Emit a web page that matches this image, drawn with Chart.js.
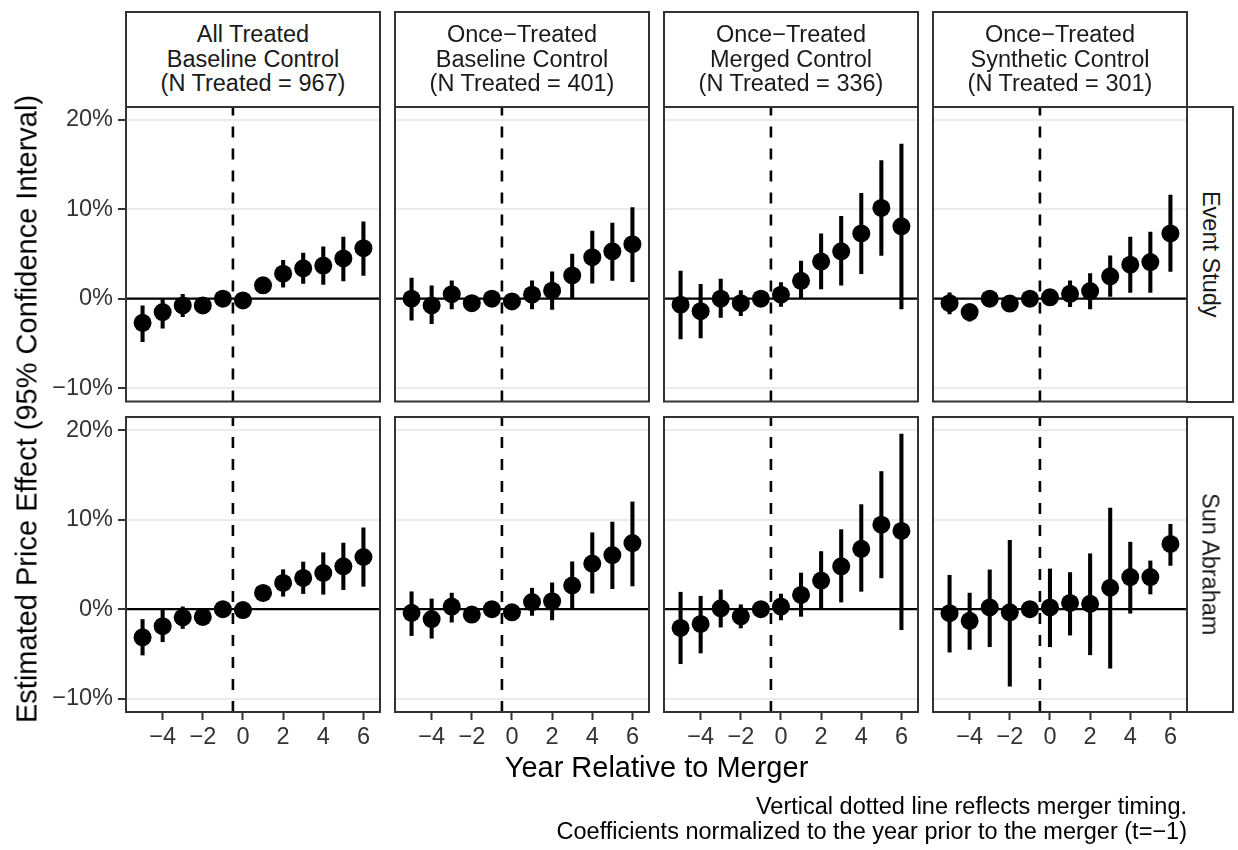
<!DOCTYPE html>
<html>
<head>
<meta charset="utf-8">
<script src="https://cdn.jsdelivr.net/npm/chart.js@4.4.0/dist/chart.umd.min.js"></script>
<style>
  body { margin: 0; background: #fff; width: 1238px; height: 850px; position: relative; overflow: hidden;
         font-family: "Liberation Sans", Arial, Helvetica, sans-serif; }
  canvas { position: absolute; left: 0; top: 0; }
  .strip { position: absolute; box-sizing: border-box; border: 2px solid #333; background: #fff; color: #1a1a1a;
           font-size: 23.5px; line-height: 24.5px; display: flex; align-items: center; justify-content: center; text-align: center; }
  .vtext { white-space: nowrap; transform: rotate(90deg); }
  .lbl { position: absolute; white-space: nowrap; color: #000; }
</style>
</head>
<body>
<script>
// data (percent), years relative to merger
const YEARS = [-5, -4, -3, -2, -1, 0, 1, 2, 3, 4, 5, 6];
const X_TICKS = [-4, -2, 0, 2, 4, 6];
const Y_TICKS = [-10, 0, 10, 20];
const COL_STRIPS = [
  ["All Treated", "Baseline Control", "(N Treated = 967)"],
  ["Once\u2212Treated", "Baseline Control", "(N Treated = 401)"],
  ["Once\u2212Treated", "Merged Control", "(N Treated = 336)"],
  ["Once\u2212Treated", "Synthetic Control", "(N Treated = 301)"]
];
const ROW_STRIPS = ["Event Study", "Sun Abraham"];

// Event Study
const esAllEst = [-2.7, -1.5, -0.75, -0.75, 0, -0.2, 1.5, 2.8, 3.4, 3.7, 4.5, 5.65];
const esAllLo  = [-4.8, -3.3, -2.0, -1.4, 0, -0.8, 1.0, 1.3, 1.7, 1.6, 2.0, 2.6];
const esAllHi  = [-0.8, -0.1, 0.5, -0.1, 0, 0.4, 2.0, 4.3, 5.1, 5.8, 6.9, 8.6];

const esBaseEst = [0.0, -0.75, 0.5, -0.5, 0, -0.3, 0.45, 0.9, 2.6, 4.65, 5.3, 6.1];
const esBaseLo  = [-2.4, -2.8, -1.15, -1.3, 0, -0.9, -1.15, -1.2, 0.0, 1.75, 2.05, 1.9];
const esBaseHi  = [2.3, 1.45, 2.0, 0.3, 0, 0.3, 2.0, 3.0, 5.0, 7.55, 8.45, 10.2];

const esMergEst = [-0.67, -1.4, 0.0, -0.5, 0, 0.45, 2.0, 4.15, 5.3, 7.3, 10.15, 8.1];
const esMergLo  = [-4.5, -4.4, -2.1, -1.9, 0, -0.85, 0.0, 1.1, 1.5, 2.8, 4.85, -1.15];
const esMergHi  = [3.1, 1.6, 2.2, 0.9, 0, 1.8, 4.2, 7.25, 9.2, 11.8, 15.45, 17.3];

const esSynEst = [-0.5, -1.5, 0.0, -0.55, 0, 0.15, 0.55, 0.85, 2.5, 3.8, 4.1, 7.3];
const esSynLo  = [-1.7, -2.5, -0.5, -1.0, 0, -0.4, -0.9, -1.15, 0.25, 0.7, 0.7, 3.05];
const esSynHi  = [0.65, -0.8, 0.5, -0.1, 0, 0.6, 2.0, 2.8, 4.8, 6.9, 7.45, 11.6];

// Sun Abraham
const saAllEst = [-3.15, -1.9, -0.93, -0.86, 0, -0.1, 1.82, 2.94, 3.5, 4.05, 4.8, 5.84];
const saAllLo  = [-5.13, -3.64, -2.16, -1.5, 0, -0.6, 1.3, 1.45, 1.75, 1.67, 2.19, 2.56];
const saAllHi  = [-1.15, -0.1, 0.26, -0.3, 0, 0.4, 2.4, 4.42, 5.28, 6.32, 7.4, 9.1];

const saBaseEst = [-0.4, -1.1, 0.3, -0.6, 0, -0.35, 0.8, 0.9, 2.65, 5.1, 6.05, 7.4];
const saBaseLo  = [-2.95, -3.25, -1.45, -1.2, 0, -0.9, -0.7, -1.2, 0.1, 1.8, 2.3, 2.6];
const saBaseHi  = [1.95, 1.15, 1.8, 0.0, 0, 0.2, 2.35, 2.95, 5.3, 8.55, 9.75, 12.0];

const saMergEst = [-2.1, -1.65, 0.1, -0.8, 0, 0.3, 1.6, 3.2, 4.8, 6.75, 9.45, 8.75];
const saMergLo  = [-6.1, -4.9, -2.0, -2.1, 0, -1.2, -0.8, 0.05, 0.8, 2.0, 3.5, -2.3];
const saMergHi  = [1.9, 1.45, 2.15, 0.5, 0, 1.7, 4.05, 6.45, 8.9, 11.7, 15.4, 19.6];

const saSynEst = [-0.45, -1.3, 0.2, -0.35, 0, 0.2, 0.7, 0.6, 2.4, 3.6, 3.6, 7.3];
const saSynLo  = [-4.8, -4.5, -4.2, -8.6, 0, -4.2, -2.9, -5.1, -6.6, -0.45, 1.7, 4.9];
const saSynHi  = [3.8, 1.8, 4.4, 7.7, 0, 4.5, 4.1, 6.2, 11.3, 7.5, 5.4, 9.5];

const H_LINE = 0;      // reference line
const V_LINE = -0.5;   // merger timing

// layout
const W = 1238, H = 850;
const COL_LEFT = [126, 395, 664, 933];
const ROW_TOP = [106.5, 417];
const PW = 254, PH = 295;
const X_MIN = -5.825, X_MAX = 6.825;
const Y_MIN = -11.5, Y_MAX = 21.5;
const FONT = '"Liberation Sans", Arial, Helvetica, sans-serif';

const fmt = v => (v < 0 ? "\u2212" + Math.abs(v) : String(v));

const panelDecor = {
  id: "panelDecor",
  beforeDatasetsDraw(chart) {
    const { ctx, chartArea: a, scales } = chart;
    ctx.save();
    const y0 = scales.y.getPixelForValue(H_LINE);
    ctx.strokeStyle = "#000";
    ctx.lineWidth = 2.2;
    ctx.beginPath(); ctx.moveTo(a.left, y0); ctx.lineTo(a.right, y0); ctx.stroke();
    const xv = scales.x.getPixelForValue(V_LINE);
    ctx.setLineDash([11, 11]);
    ctx.lineWidth = 2.6;
    ctx.beginPath(); ctx.moveTo(xv, a.bottom); ctx.lineTo(xv, a.top); ctx.stroke();
    ctx.restore();
  },
  afterDraw(chart) {
    const { ctx, chartArea: a } = chart;
    ctx.save();
    ctx.strokeStyle = "#333";
    ctx.lineWidth = 2;
    ctx.strokeRect(a.left, a.top, a.right - a.left, a.bottom - a.top);
    ctx.restore();
  }
};

function makePanel(row, col, est, lo, hi) {
  const canvas = document.createElement("canvas");
  canvas.width = W; canvas.height = H;
  document.body.appendChild(canvas);
  const left = COL_LEFT[col], top = ROW_TOP[row];
  const bottom = H - top - PH;
  // the axis boxes take the whole margin where labels are shown, so labels are not clipped
  const yBox = col === 0 ? left : 0;
  const xBox = row === 1 ? bottom : 0;

  new Chart(canvas.getContext("2d"), {
    type: "scatter",
    data: {
      datasets: [
        {
          type: "scatter",
          data: YEARS.map((x, i) => ({ x: x, y: est[i] })),
          pointRadius: 9,
          pointHoverRadius: 9,
          pointBackgroundColor: "#000",
          pointBorderWidth: 0,
          order: 0
        },
        {
          type: "bar",
          data: YEARS.map((x, i) => ({ x: x, y: [lo[i], hi[i]] })),
          backgroundColor: "#000",
          barThickness: 3.4,
          order: 1
        }
      ]
    },
    options: {
      responsive: false,
      animation: false,
      events: [],
      layout: { autoPadding: false,
                padding: { left: left - yBox, top: top, right: W - left - PW, bottom: bottom - xBox } },
      plugins: { legend: { display: false }, tooltip: { enabled: false } },
      scales: {
        x: {
          type: "linear", min: X_MIN, max: X_MAX, offset: false,
          afterFit: s => { s.height = xBox; },
          afterBuildTicks: s => { s.ticks = X_TICKS.map(v => ({ value: v })); },
          grid: { display: row === 1, drawOnChartArea: false, drawTicks: row === 1, tickLength: 8, tickColor: "#333", tickWidth: 2, offset: false },
          border: { display: false },
          ticks: { display: row === 1, padding: 3, color: "#333", maxRotation: 0, autoSkip: false,
                   font: { family: FONT, size: 23.5 }, callback: v => fmt(v) }
        },
        y: {
          type: "linear", min: Y_MIN, max: Y_MAX,
          afterFit: s => { s.width = yBox; },
          afterBuildTicks: s => { s.ticks = Y_TICKS.map(v => ({ value: v })); },
          grid: { color: "#EBEBEB", lineWidth: 2, drawTicks: col === 0, tickLength: 8, tickColor: "#333", tickWidth: 2 },
          border: { display: false },
          ticks: { display: col === 0, padding: 5, color: "#333",
                   font: { family: FONT, size: 23.5 }, callback: v => fmt(v) + "%" }
        }
      }
    },
    plugins: [panelDecor]
  });
}

const PANELS = [
  [esAllEst, esAllLo, esAllHi], [esBaseEst, esBaseLo, esBaseHi], [esMergEst, esMergLo, esMergHi], [esSynEst, esSynLo, esSynHi],
  [saAllEst, saAllLo, saAllHi], [saBaseEst, saBaseLo, saBaseHi], [saMergEst, saMergLo, saMergHi], [saSynEst, saSynLo, saSynHi]
];
PANELS.forEach((p, k) => makePanel(Math.floor(k / 4), k % 4, p[0], p[1], p[2]));

// strips
COL_STRIPS.forEach((lines, c) => {
  const d = document.createElement("div");
  d.className = "strip";
  d.style.left = (COL_LEFT[c] - 1) + "px";
  d.style.top = "10.5px";
  d.style.width = (PW + 2) + "px";
  d.style.height = (ROW_TOP[0] - 10.5 + 1) + "px";
  d.innerHTML = lines.join("<br>");
  document.body.appendChild(d);
});
ROW_STRIPS.forEach((txt, r) => {
  const d = document.createElement("div");
  d.className = "strip";
  d.style.left = (COL_LEFT[3] + PW - 1) + "px";
  d.style.top = (ROW_TOP[r] - 1) + "px";
  d.style.width = "48px";
  d.style.height = (PH + 2) + "px";
  const s = document.createElement("div");
  s.className = "vtext";
  s.textContent = txt;
  d.appendChild(s);
  document.body.appendChild(d);
});

function label(text, x, y, size, extra) {
  const d = document.createElement("div");
  d.className = "lbl";
  d.style.left = x + "px";
  d.style.top = y + "px";
  d.style.fontSize = size + "px";
  d.style.transform = extra;
  d.innerHTML = text;
  document.body.appendChild(d);
  return d;
}
label("Estimated Price Effect (95% Confidence Interval)", 27, 409, 29, "translate(-50%,-50%) rotate(-90deg)");
label("Year Relative to Merger", 656.5, 767, 29, "translate(-50%,-50%)");
const cap = label("Vertical dotted line reflects merger timing.<br>Coefficients normalized to the year prior to the merger (t=\u22121)",
                  1187, 819, 23.5, "translate(-100%,-50%)");
cap.style.textAlign = "right";
cap.style.lineHeight = "25px";
cap.style.color = "#000";
</script>
</body>
</html>
